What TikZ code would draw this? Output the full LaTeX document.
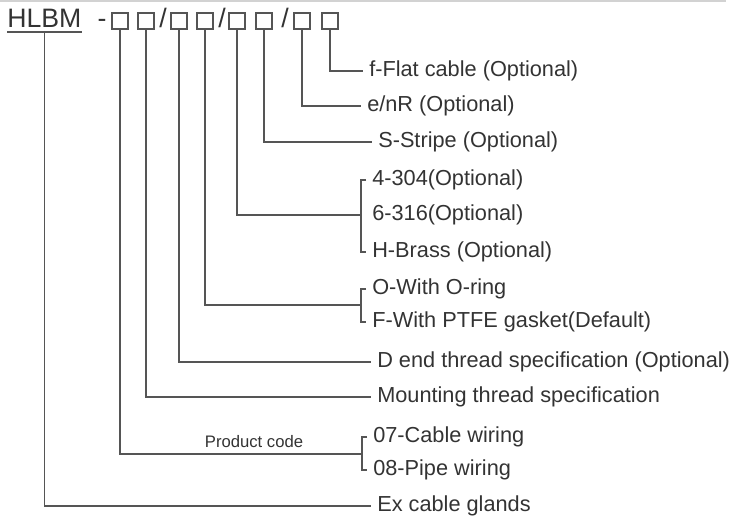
\documentclass[tikz,border=0pt]{standalone}
\usepackage{fontspec}
\setmainfont{Liberation Sans}
\definecolor{linegray}{HTML}{555555}
\definecolor{textgray}{HTML}{333333}
\begin{document}
\begin{tikzpicture}[x=0.75pt,y=-0.75pt,
  lbl/.style={anchor=west,inner xsep=4.5pt,inner ysep=0pt,text=textgray,font=\fontsize{16.3}{18}\selectfont},
  head/.style={anchor=base,inner sep=0pt,text=textgray,font=\fontsize{20}{22}\selectfont},
  codebox/.style={draw=linegray,line width=1.1pt,minimum size=12.3pt,inner sep=0pt},
  lead/.style={draw=linegray,line width=1.1pt}]
\useasboundingbox (0,0) rectangle (733,517);
\draw[gray!35,line width=1.5pt] (0,1) -- (726,1);
% type code
\node[head,anchor=base west] (hlbm) at (7,28) {HLBM};
\draw[lead] ([yshift=-3pt]hlbm.base west) -- ([yshift=-3pt]hlbm.base east);
\node[head] (dash) at (102,28) {-};
\foreach \x [count=\i] in {120,146,179,205,237,264,302,330}
  \node[codebox] (b\i) at (\x,21) {};
\foreach \x/\n in {163/s1,222/s2,285/s3}
  \node[head] (\n) at (\x,28) {/};
% labels
\node[lbl] (flat) at (363,71) {f-Flat cable (Optional)};
\node[lbl] (enr) at (361,106) {e/nR (Optional)};
\node[lbl] (stripe) at (372,142) {S-Stripe (Optional)};
\node[lbl] (a304) at (366,180) {4-304(Optional)};
\node[lbl] (a316) at (366,215) {6-316(Optional)};
\node[lbl] (brass) at (366,252) {H-Brass (Optional)};
\node[lbl] (oring) at (366,289) {O-With O-ring};
\node[lbl] (ptfe) at (366,322) {F-With PTFE gasket(Default)};
\node[lbl] (dend) at (371,362) {D end thread specification (Optional)};
\node[lbl] (mount) at (371,397) {Mounting thread specification};
\node[lbl] (cable) at (367,437) {07-Cable wiring};
\node[lbl] (pipe) at (367,470) {08-Pipe wiring};
\node[lbl] (ex) at (371,506) {Ex cable glands};
\node[anchor=base,inner sep=0pt,text=textgray,font=\fontsize{12.5}{14}\selectfont] (pcode) at (254,447) {Product code};
% brackets
\coordinate (k1) at (361,215);
\coordinate (k2) at (361,305);
\coordinate (k3) at (362,454);
% leaders
\draw[lead] (b8.south) |- (flat.west);
\draw[lead] (b7.south) |- (enr.west);
\draw[lead] (b6.south) |- (stripe.west);
\draw[lead] (b5.south) |- (k1);
\draw[lead] (a304.west) -| (k1) |- (brass.west);
\draw[lead] (b4.south) |- (k2);
\draw[lead] (oring.west) -| (k2) |- (ptfe.west);
\draw[lead] (b3.south) |- (dend.west);
\draw[lead] (b2.south) |- (mount.west);
\draw[lead] (b1.south) |- (k3);
\draw[lead] (cable.west) -| (k3) |- (pipe.west);
\draw[lead] ([yshift=-3pt]hlbm.base) |- (ex.west);
\end{tikzpicture}
\end{document}
